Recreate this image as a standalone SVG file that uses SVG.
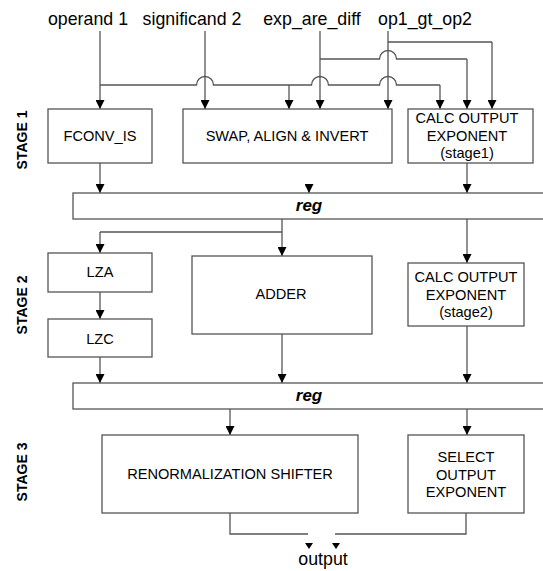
<svg xmlns="http://www.w3.org/2000/svg" width="543" height="571" viewBox="0 0 543 571">
<defs>
<marker id="ah" viewBox="0 0 10 10" refX="10" refY="5" markerWidth="9" markerHeight="9" markerUnits="userSpaceOnUse" orient="auto">
<path d="M0,0 L10,5 L0,10 z" fill="#000"/>
</marker>
<style>
.box{fill:#fff;stroke:#555;stroke-width:1.3}
.ln{fill:none;stroke:#555;stroke-width:1.3}
.ar{marker-end:url(#ah)}
.t{font-family:"Liberation Sans",Arial,sans-serif;font-size:14.6px;fill:#000;text-anchor:middle}
.top{font-family:"Liberation Sans",Arial,sans-serif;font-size:17.8px;fill:#000;text-anchor:middle}
.reg{font-family:"Liberation Sans",Arial,sans-serif;font-size:17px;font-weight:bold;font-style:italic;fill:#000;text-anchor:middle}
.stg{font-family:"Liberation Sans",Arial,sans-serif;font-size:14px;font-weight:bold;fill:#000;text-anchor:middle}
</style>
</defs>
<rect width="543" height="571" fill="#fff"/>

<g id="labels">
<text class="top" x="88" y="25">operand 1</text>
<text class="top" x="192" y="25">significand 2</text>
<text class="top" x="312" y="25">exp_are_diff</text>
<text class="top" x="425" y="25">op1_gt_op2</text>
<text class="top" x="323" y="565">output</text>
<text class="stg" transform="translate(27,140) rotate(-90)">STAGE 1</text>
<text class="stg" transform="translate(27,305) rotate(-90)">STAGE 2</text>
<text class="stg" transform="translate(27,472) rotate(-90)">STAGE 3</text>
</g>

<g id="connectors">
<path class="ln ar" d="M100 31 V109"/>
<path class="ln" d="M100 85 H196.5 a8.5 8.5 0 0 1 17 0 H311.5 a8.5 8.5 0 0 1 17 0 H379.5 a8.5 8.5 0 0 1 17 0 H440"/>
<path class="ln ar" d="M440 85 V109"/>
<path class="ln ar" d="M289 85 V109"/>
<path class="ln ar" d="M205 31 V109"/>
<path class="ln ar" d="M320 31 V109"/>
<path class="ln" d="M320 59 H379.5 a8.5 8.5 0 0 1 17 0 H467"/>
<path class="ln ar" d="M467 59 V109"/>
<path class="ln ar" d="M388 31 V109"/>
<path class="ln" d="M388 42 H492"/>
<path class="ln ar" d="M492 42 V109"/>
<path class="ln ar" d="M100 163 V193"/>
<path class="ln ar" d="M309 184 V193"/>
<path class="ln ar" d="M467 163 V193"/>
<path class="ln ar" d="M282 219 V256"/>
<path class="ln" d="M282 232 H100"/>
<path class="ln ar" d="M100 232 V253"/>
<path class="ln ar" d="M467 219 V263"/>
<path class="ln ar" d="M100 292 V319"/>
<path class="ln ar" d="M100 357 V383"/>
<path class="ln ar" d="M282 334 V383"/>
<path class="ln ar" d="M467 326 V383"/>
<path class="ln ar" d="M230 409 V435"/>
<path class="ln ar" d="M467 409 V435"/>
<path class="ln" d="M230 513 V534 H308"/>
<path class="ln" d="M466 513 V534 H335"/>
<polygon points="305,543 313,543 309,549" fill="#000"/>
<polygon points="332,543 340,543 336,549" fill="#000"/>
</g>

<g id="fconv">
<rect class="box" x="48" y="109" width="104" height="54"/>
<text class="t" x="100" y="141">FCONV_IS</text>
</g>
<g id="swap">
<rect class="box" x="183" y="109" width="209" height="54"/>
<text class="t" x="287" y="141">SWAP, ALIGN &amp; INVERT</text>
</g>
<g id="calc1">
<rect class="box" x="408" y="109" width="125" height="54"/>
<text class="t" x="467" y="123">CALC OUTPUT</text>
<text class="t" x="467" y="141">EXPONENT</text>
<text class="t" x="467" y="158">(stage1)</text>
</g>
<g id="reg1">
<rect class="box" x="73" y="193" width="475" height="26"/>
<text class="reg" x="309" y="211">reg</text>
</g>
<g id="lza">
<rect class="box" x="48" y="253" width="104" height="39"/>
<text class="t" x="100" y="277">LZA</text>
</g>
<g id="lzc">
<rect class="box" x="48" y="319" width="104" height="38"/>
<text class="t" x="100" y="344">LZC</text>
</g>
<g id="adder">
<rect class="box" x="192" y="256" width="180" height="78"/>
<text class="t" x="281" y="299">ADDER</text>
</g>
<g id="calc2">
<rect class="box" x="408" y="263" width="116" height="63"/>
<text class="t" x="466" y="282">CALC OUTPUT</text>
<text class="t" x="466" y="300">EXPONENT</text>
<text class="t" x="466" y="317">(stage2)</text>
</g>
<g id="reg2">
<rect class="box" x="73" y="383" width="475" height="26"/>
<text class="reg" x="309" y="401">reg</text>
</g>
<g id="renorm">
<rect class="box" x="102" y="435" width="256" height="78"/>
<text class="t" x="230" y="479">RENORMALIZATION SHIFTER</text>
</g>
<g id="select">
<rect class="box" x="408" y="435" width="116" height="78"/>
<text class="t" x="466" y="462">SELECT</text>
<text class="t" x="466" y="480">OUTPUT</text>
<text class="t" x="466" y="497">EXPONENT</text>
</g>
</svg>
